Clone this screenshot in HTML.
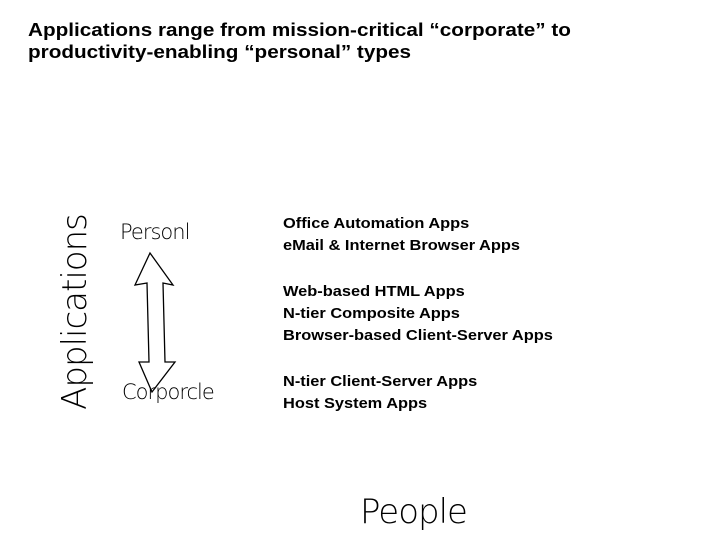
<!DOCTYPE html>
<html><head><meta charset="utf-8"><style>
body{margin:0;width:720px;height:540px;background:#fff;position:relative;overflow:hidden;font-family:"Liberation Sans",sans-serif;}
.t{position:absolute;left:28px;font-size:18px;font-weight:bold;color:#000;line-height:22px;transform:scaleX(1.15);transform-origin:0 0;white-space:nowrap;}
.l{position:absolute;left:283px;font-size:14.5px;font-weight:bold;color:#000;white-space:nowrap;transform:scaleX(1.13);transform-origin:0 0;}
.h{position:absolute;font-family:"DejaVu Sans",sans-serif;font-weight:200;color:#000;white-space:nowrap;letter-spacing:-1px;}
</style></head><body>
<div class="t" style="top:19px">Applications range from mission-critical “corporate” to<br>productivity-enabling “personal” types</div>
<div class="l" style="top:216px">Office Automation Apps</div>
<div class="l" style="top:238px">eMail &amp; Internet Browser Apps</div>
<div class="l" style="top:284px">Web-based HTML Apps</div>
<div class="l" style="top:306px">N-tier Composite Apps</div>
<div class="l" style="top:328px">Browser-based Client-Server Apps</div>
<div class="l" style="top:374px">N-tier Client-Server Apps</div>
<div class="l" style="top:396px">Host System Apps</div>
<div class="h" style="left:-30px;top:292px;width:210px;text-align:center;font-size:34px;transform:rotate(-90deg);">Applications</div>
<div class="h" style="left:120px;top:220px;font-size:21px;">Personl</div>
<div class="h" style="left:122px;top:380px;font-size:21px;">Corporcle</div>
<div class="h" style="left:360px;top:492px;font-size:34px;">People</div>
<svg width="720" height="540" style="position:absolute;left:0;top:0">
<path d="M150 253 L135 285 L147 283 L149 362 L139 362 L152 392 L175 362 L165 362 L163 283 L173 285 Z" fill="none" stroke="#000" stroke-width="1.3"/>
</svg>
</body></html>
